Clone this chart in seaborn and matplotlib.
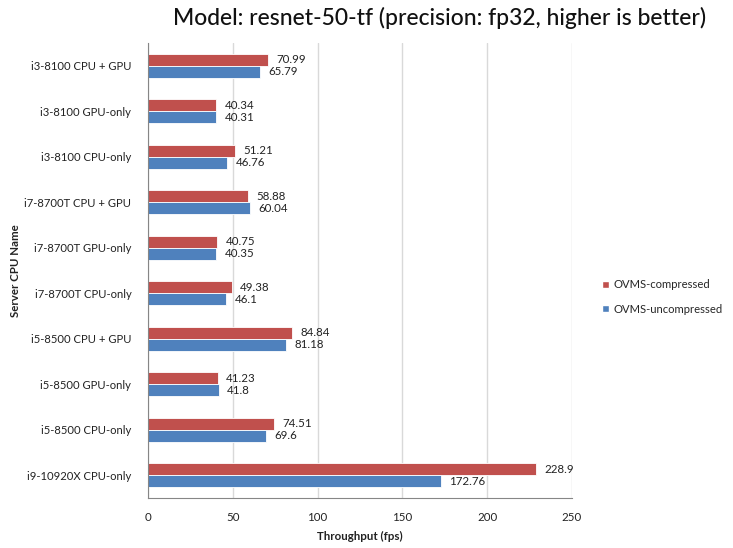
import matplotlib
matplotlib.use("Agg")
import matplotlib.pyplot as plt
import seaborn as sns
import pandas as pd
from matplotlib.patches import Patch

categories = ["i3-8100 CPU + GPU", "i3-8100 GPU-only", "i3-8100 CPU-only",
              "i7-8700T CPU + GPU", "i7-8700T GPU-only", "i7-8700T CPU-only",
              "i5-8500 CPU + GPU", "i5-8500 GPU-only", "i5-8500 CPU-only",
              "i9-10920X CPU-only"]
compressed = [70.99, 40.34, 51.21, 58.88, 40.75, 49.38, 84.84, 41.23, 74.51, 228.9]
uncompressed = [65.79, 40.31, 46.76, 60.04, 40.35, 46.1, 81.18, 41.8, 69.6, 172.76]
compressed_labels = ["70.99", "40.34", "51.21", "58.88", "40.75", "49.38", "84.84", "41.23", "74.51", "228.9"]
uncompressed_labels = ["65.79", "40.31", "46.76", "60.04", "40.35", "46.1", "81.18", "41.8", "69.6", "172.76"]
series = ["OVMS-compressed", "OVMS-uncompressed"]
colors = ["#C0504D", "#4F81BD"]
x_ticks = [0, 50, 100, 150, 200, 250]

df = pd.DataFrame({
    "cat": categories * 2,
    "val": compressed + uncompressed,
    "series": [series[0]] * len(categories) + [series[1]] * len(categories),
})

sns.set_style("white")
plt.rcParams["font.family"] = ["Lato", "DejaVu Sans"]

fig = plt.figure(figsize=(7.33, 5.48), dpi=100)
ax = fig.add_axes([148 / 733, 1 - 498 / 548, (572 - 148) / 733, (498 - 43) / 548])

sns.barplot(data=df, y="cat", x="val", hue="series", order=categories,
            hue_order=series, palette=colors, orient="h", width=0.53,
            saturation=1, ax=ax, legend=False, linewidth=0.6, edgecolor="white")

for cont, labels in zip(ax.containers, [compressed_labels, uncompressed_labels]):
    ax.bar_label(cont, labels=labels, padding=6, fontsize=8.3, color="#222222")

ax.set_xlim(0, 250)
ax.set_xticks(x_ticks)
ax.set_xticklabels([str(t) for t in x_ticks], fontsize=8.3, color="#222222")
ax.tick_params(axis="y", labelsize=8.1, colors="#222222", length=0, pad=12)
ax.tick_params(axis="x", length=0, pad=10)
ax.xaxis.grid(True, color="#D9D9D9", linewidth=1)
ax.set_axisbelow(True)
for s in ["top", "right"]:
    ax.spines[s].set_visible(False)
ax.spines["left"].set_color("#868686")
ax.spines["bottom"].set_color("#868686")

ax.set_xlabel("Throughput (fps)", fontsize=8.3, fontweight="bold", color="#222222", labelpad=6)
ax.set_ylabel("Server CPU Name", fontsize=8.3, fontweight="bold", color="#222222")
ax.yaxis.set_label_coords(-0.3, 0.5)

fig.text(440 / 733, 1 - 18 / 548, "Model: resnet-50-tf (precision: fp32, higher is better)",
         ha="center", va="center", fontsize=16.5, fontweight="medium", color="#111111")

handles = [Patch(facecolor=c, label=s) for c, s in zip(colors, series)]
fig.legend(handles=handles, loc="center left", bbox_to_anchor=(592 / 733, 1 - 297 / 548),
           frameon=False, fontsize=8.1, handlelength=0.6, handleheight=0.6,
           handletextpad=0.4, labelspacing=1.2)

fig.savefig("out.png", dpi=100)
